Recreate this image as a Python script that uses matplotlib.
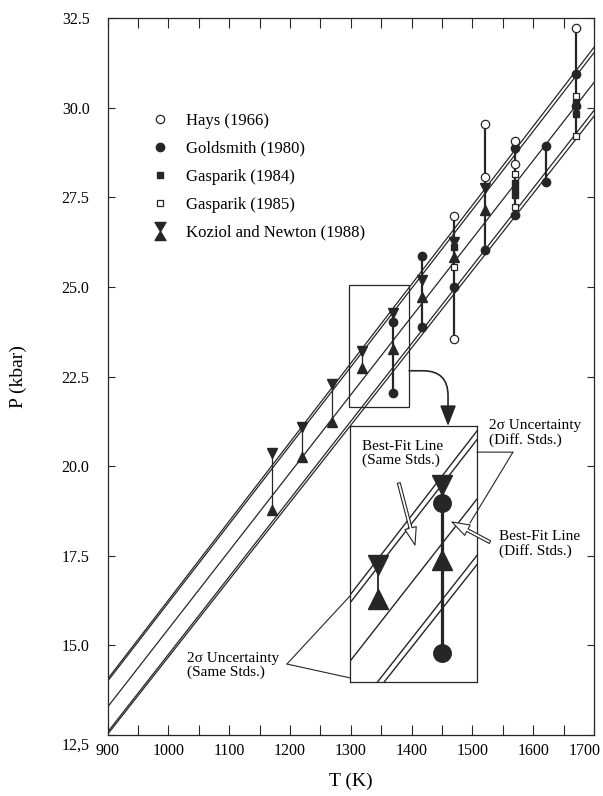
import matplotlib
matplotlib.use("Agg")
import matplotlib.pyplot as plt
from matplotlib.path import Path
from matplotlib.patches import Rectangle, FancyArrowPatch
from matplotlib.lines import Line2D
from matplotlib.transforms import ScaledTranslation

plt.rcParams['font.family'] = ['Liberation Serif', 'DejaVu Serif']

# --------------------------
# data
# --------------------------
hays_T = [1470, 1470, 1521, 1521, 1570, 1570, 1671]
hays_P = [26.98, 23.56, 29.54, 28.07, 29.08, 28.43, 32.21]

gold_T = [1369, 1369, 1417, 1417, 1470, 1521, 1570, 1570, 1621, 1621, 1671, 1671]
gold_P = [24.03, 22.04, 25.86, 23.89, 25.00, 26.03, 28.87, 27.00, 28.94, 27.93, 30.94, 30.05]

gas84_T = [1470, 1570, 1570, 1570, 1671, 1671]
gas84_P = [26.12, 27.90, 27.72, 27.56, 30.17, 29.82]

gas85_T = [1470, 1570, 1570, 1671, 1671]
gas85_P = [25.56, 28.15, 27.22, 30.32, 29.21]

kn_T = [1170, 1219, 1269, 1319, 1369, 1417, 1470, 1521]
kn_hi = [20.36, 21.10, 22.29, 23.21, 24.26, 25.19, 26.26, 27.75]
kn_lo = [18.78, 20.26, 21.24, 22.75, 23.27, 24.73, 25.84, 27.14]

# fitted lines, end points at T = 900 and 1700
fit_T = [900, 1700]
sig_same_hi = [14.06, 31.68]
sig_diff_hi = [14.00, 31.53]
best_fit = [13.28, 30.70]
sig_diff_lo = [12.58, 29.92]
sig_same_lo = [12.52, 29.76]

y_ticks = [12.5, 15.0, 17.5, 20.0, 22.5, 25.0, 27.5, 30.0, 32.5]
y_labels = ['12,5', '15.0', '17.5', '20.0', '22.5', '25.0', '27.5', '30.0', '32.5']
x_ticks = [900, 1000, 1100, 1200, 1300, 1400, 1500, 1600, 1700]

ink = '#262626'

# hourglass marker for the Koziol & Newton legend entry
hourglass = Path(
    [(-0.6, 1), (0.6, 1), (0, 0), (-0.6, 1), (-0.6, -1), (0.6, -1), (0, 0), (-0.6, -1)],
    [Path.MOVETO, Path.LINETO, Path.LINETO, Path.CLOSEPOLY,
     Path.MOVETO, Path.LINETO, Path.LINETO, Path.CLOSEPOLY])


def draw_data(a, s, lw_line):
    for ys in [sig_same_hi, sig_diff_hi, best_fit, sig_diff_lo, sig_same_lo]:
        a.plot(fit_T, ys, color=ink, lw=lw_line, zorder=2)

    # vertical bars joining the points of each temperature
    all_T = hays_T + gold_T + gas84_T + gas85_T + kn_T + kn_T
    all_P = hays_P + gold_P + gas84_P + gas85_P + kn_hi + kn_lo
    for t in sorted(set(all_T)):
        ps = [p for tt, p in zip(all_T, all_P) if tt == t]
        heavy = (t in hays_T) or (t in gold_T)
        a.vlines(t, min(ps), max(ps), color=ink, lw=(1.6 if heavy else 0.9) * s ** 0.5, zorder=3)

    a.plot(kn_T, kn_hi, 'v', ms=7 * s, color=ink, ls='none', zorder=4)
    a.plot(kn_T, kn_lo, '^', ms=7 * s, color=ink, ls='none', zorder=4)
    a.plot(gold_T, gold_P, 'o', ms=6 * s, color=ink, ls='none', zorder=4)
    a.plot(gas84_T, gas84_P, 's', ms=4.8 * s, color=ink, ls='none', zorder=4)
    a.plot(gas85_T, gas85_P, 's', ms=5 * s, mfc='white', mec=ink, mew=0.9, ls='none', zorder=4)
    a.plot(hays_T, hays_P, 'o', ms=6 * s, mfc='white', mec=ink, mew=0.9, ls='none', zorder=5)


fig = plt.figure(figsize=(6.03, 7.96), dpi=100)
ax = fig.add_axes([0.1784, 0.0766, 0.8066, 0.9008])

draw_data(ax, 1.0, 0.9)

ax.set_xlim(900, 1700)
ax.set_ylim(12.5, 32.5)
ax.set_xticks(x_ticks)
ax.set_xticks([t + 50 for t in x_ticks[:-1]], minor=True)
ax.set_yticks(y_ticks)
ax.set_yticklabels(y_labels)
ax.tick_params(axis='both', which='both', direction='in', top=True, right=True,
               color=ink, width=0.8, labelsize=11.5)
ax.tick_params(axis='x', which='both', length=7, pad=6)
ax.tick_params(axis='y', length=5, pad=13)
for sp in ax.spines.values():
    sp.set_linewidth(0.9)
    sp.set_color(ink)

# the last x label sits a little to the left, the "12,5" label a little low
last = ax.get_xticklabels()[-1]
last.set_transform(last.get_transform() + ScaledTranslation(-7 / 72, 0, fig.dpi_scale_trans))
first = ax.get_yticklabels()[0]
first.set_transform(first.get_transform() + ScaledTranslation(0, -6 / 72, fig.dpi_scale_trans))

ax.set_xlabel('T (K)', fontsize=14)
ax.set_ylabel('P (kbar)', fontsize=14)
ax.xaxis.set_label_coords(0.5, -0.052)
ax.yaxis.set_label_coords(-0.165, 0.5)

# legend
handles = [
    Line2D([], [], marker='o', ls='none', ms=6, mfc='white', mec=ink, mew=0.9),
    Line2D([], [], marker='o', ls='none', ms=6, color=ink),
    Line2D([], [], marker='s', ls='none', ms=5, color=ink),
    Line2D([], [], marker='s', ls='none', ms=5, mfc='white', mec=ink, mew=0.9),
    Line2D([], [], marker=hourglass, ls='none', ms=13, color=ink),
]
labels = ['Hays (1966)', 'Goldsmith (1980)', 'Gasparik (1984)', 'Gasparik (1985)',
          'Koziol and Newton (1988)']
ax.legend(handles, labels, loc='upper left', bbox_to_anchor=(0.09, 0.868),
          frameon=False, fontsize=12, handlelength=1.0, handletextpad=1.06,
          labelspacing=0.72, borderpad=0, borderaxespad=0)

# small box and the magnified inset
box_T = [1297, 1396]
box_P = [21.65, 25.05]
ax.add_patch(Rectangle((box_T[0], box_P[0]), box_T[1] - box_T[0], box_P[1] - box_P[0],
                       fill=False, lw=0.9, ec=ink, zorder=3))

axins = ax.inset_axes([1298.7, 13.98, 208.9, 7.14], transform=ax.transData)
axins.set_facecolor('white')
draw_data(axins, 2.1, 1.0)
axins.set_xlim(*box_T)
axins.set_ylim(*box_P)
axins.set_xticks([])
axins.set_yticks([])
for sp in axins.spines.values():
    sp.set_linewidth(0.9)
    sp.set_color(ink)

# curved arrow from box to inset
ax.add_patch(FancyArrowPatch((box_T[1], 22.66), (1460, 21.12),
                             connectionstyle='angle,angleA=0,angleB=90,rad=25',
                             arrowstyle='-|>,head_length=0.9,head_width=0.35',
                             mutation_scale=14, lw=1.2, color=ink,
                             shrinkA=0, shrinkB=0, zorder=6))

# labels
ax.text(1318, 20.73, 'Best-Fit Line\n(Same Stds.)', fontsize=11, va='top', ha='left',
        linespacing=1.1, zorder=7)
ax.text(1544, 18.22, 'Best-Fit Line\n(Diff. Stds.)', fontsize=11, va='top', ha='left',
        linespacing=1.1, zorder=7)
ax.text(1527, 21.31, '2σ Uncertainty\n(Diff. Stds.)', fontsize=11, va='top', ha='left',
        linespacing=1.1, zorder=7)
ax.text(1030, 14.82, '2σ Uncertainty\n(Same Stds.)', fontsize=11, va='top', ha='left',
        linespacing=1.1, zorder=7)

# leaders
for xy in [(0, 0.336), (0, 0.016)]:
    ax.annotate('', xy=xy, xycoords=axins.transAxes, xytext=(1195, 14.48),
                textcoords=ax.transData,
                arrowprops=dict(arrowstyle='-', lw=0.8, color=ink, shrinkA=0, shrinkB=0))
for xy in [(1.0, 0.898), (0.945, 0.621)]:
    axins.annotate('', xy=xy, xycoords=axins.transAxes, xytext=(1566.8, 20.39),
                   textcoords=ax.transData,
                   arrowprops=dict(arrowstyle='-', lw=0.8, color=ink, shrinkA=0, shrinkB=0))

hollow = dict(arrowstyle='simple,head_length=0.9,head_width=0.6,tail_width=0.15',
              fc='white', ec=ink, lw=0.8, mutation_scale=14, shrinkA=0, shrinkB=0)
axins.annotate('', xy=(0.512, 0.535), xycoords=axins.transAxes, xytext=(1379, 19.53),
               textcoords=ax.transData, arrowprops=hollow)
axins.annotate('', xy=(0.803, 0.625), xycoords=axins.transAxes, xytext=(1529, 17.88),
               textcoords=ax.transData, arrowprops=hollow)

fig.savefig('out.png', dpi=100, facecolor='white')
